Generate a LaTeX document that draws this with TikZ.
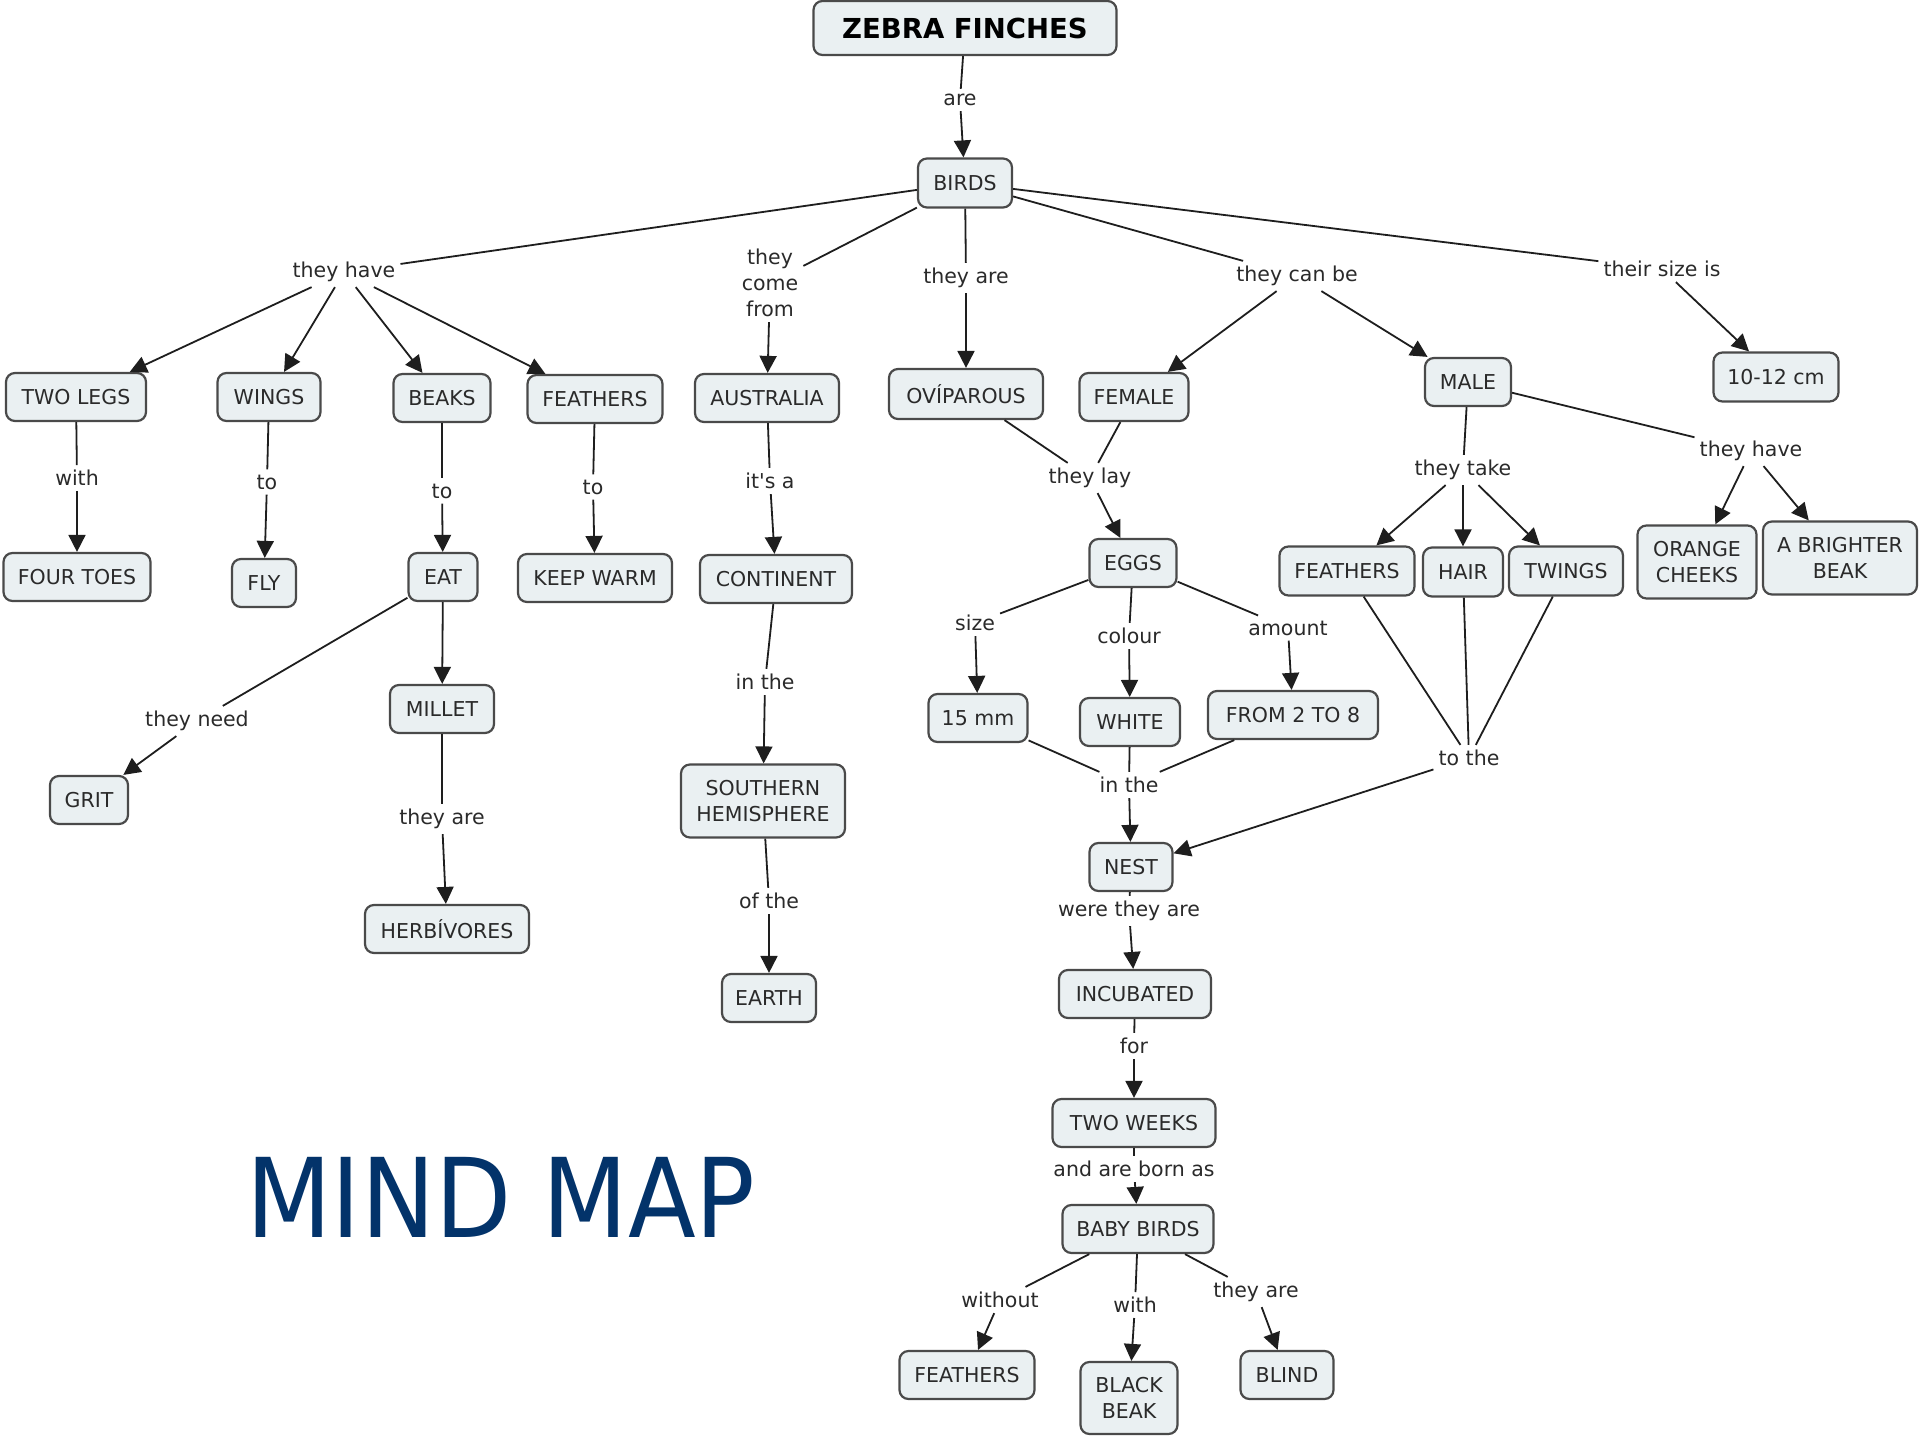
\documentclass[tikz,border=0pt]{standalone}
\usepackage{fontspec}
\setmainfont{DejaVu Sans}
\usepackage{graphicx}
\usetikzlibrary{arrows.meta}
\definecolor{cfill}{HTML}{EAF0F2}
\definecolor{cborder}{HTML}{4A4A4A}
\definecolor{ctext}{HTML}{2A2A2A}
\definecolor{cline}{HTML}{1E1E1E}
\definecolor{navy}{HTML}{03336A}
\newcommand{\nfont}{\fontsize{20.5}{26}\selectfont}
\begin{document}
\begin{tikzpicture}[x=1pt,y=-1pt,
 concept/.style={draw=cborder, fill=cfill, rounded corners=9pt, line width=2.2pt, minimum height=48pt, inner xsep=8pt, inner ysep=4pt, font=\nfont, text=ctext, align=center},
 lbl/.style={font=\nfont, text=ctext, inner sep=5pt, align=center},
 conn/.style={draw=cline, line width=1.8pt},
 arr/.style={conn, -{Triangle[length=17pt,width=17pt]}}]
\fill[white] (0,0) rectangle (1920,1440);
\useasboundingbox (0,0) rectangle (1920,1440);

% concepts
\node[concept, font=\fontsize{27.5}{32}\selectfont\bfseries, text=black, minimum width=303pt, minimum height=54pt] (zf) at (965,28) {ZEBRA FINCHES};
\node[concept, minimum width=94pt, minimum height=49pt] (birds) at (965,183) {BIRDS};
\node[concept, minimum width=140pt] (twolegs) at (76,397) {TWO LEGS};
\node[concept, minimum width=103pt] (wings) at (269,397) {WINGS};
\node[concept, minimum width=97pt] (beaks) at (442,398) {BEAKS};
\node[concept, minimum width=135pt] (feath) at (595,399) {FEATHERS};
\node[concept, minimum width=144pt] (austr) at (767,398) {AUSTRALIA};
\node[concept, minimum width=154pt, minimum height=50pt] (ovip) at (966,394) {OVÍPAROUS};
\node[concept, minimum width=109pt] (female) at (1134,397) {FEMALE};
\node[concept, minimum width=86pt] (male) at (1468,382) {MALE};
\node[concept, minimum width=125pt, minimum height=49pt] (size) at (1776,377) {10-12 cm};
\node[concept, minimum width=147pt] (fourtoes) at (77,577) {FOUR TOES};
\node[concept, minimum width=64pt] (fly) at (264,583) {FLY};
\node[concept, minimum width=69pt] (eat) at (443,577) {EAT};
\node[concept, minimum width=154pt] (keepwarm) at (595,578) {KEEP WARM};
\node[concept, minimum width=152pt] (contin) at (776,579) {CONTINENT};
\node[concept, minimum width=87pt] (eggs) at (1133,563) {EGGS};
\node[concept, minimum width=135pt, minimum height=49pt] (mfeath) at (1347,571) {FEATHERS};
\node[concept, minimum width=80pt, minimum height=49pt] (hair) at (1463,572) {HAIR};
\node[concept, minimum width=114pt, minimum height=49pt] (twings) at (1566,571) {TWINGS};
\node[concept, minimum width=119pt, minimum height=73pt] (orange) at (1697,562) {ORANGE\\CHEEKS};
\node[concept, minimum width=154pt, minimum height=73pt] (bright) at (1840,558) {A BRIGHTER\\BEAK};
\node[concept, minimum width=104pt] (millet) at (442,709) {MILLET};
\node[concept, minimum width=78pt] (grit) at (89,800) {GRIT};
\node[concept, minimum width=164pt, minimum height=73pt] (south) at (763,801) {SOUTHERN\\HEMISPHERE};
\node[concept, minimum width=99pt] (mm) at (978,718) {15 mm};
\node[concept, minimum width=100pt] (white) at (1130,722) {WHITE};
\node[concept, minimum width=170pt] (from) at (1293,715) {FROM 2 TO 8};
\node[concept, minimum width=83pt] (nest) at (1131,867) {NEST};
\node[concept, minimum width=164pt] (herb) at (447,929) {HERBÍVORES};
\node[concept, minimum width=94pt] (earth) at (769,998) {EARTH};
\node[concept, minimum width=152pt] (incub) at (1135,994) {INCUBATED};
\node[concept, minimum width=163pt] (twoweeks) at (1134,1123) {TWO WEEKS};
\node[concept, minimum width=151pt] (baby) at (1138,1229) {BABY BIRDS};
\node[concept, minimum width=135pt] (bfeath) at (967,1375) {FEATHERS};
\node[concept, minimum width=97pt, minimum height=72pt] (black) at (1129,1398) {BLACK\\BEAK};
\node[concept, minimum width=93pt] (blind) at (1287,1375) {BLIND};

% linking phrases
\node[lbl] (l_are) at (960,100) {are};
\node[lbl] (l_have) at (344,272) {they have};
\node[lbl] (l_come) at (770,283) {they\\come\\from};
\node[lbl] (l_are2) at (966,278) {they are};
\node[lbl] (l_can) at (1297,276) {they can be};
\node[lbl] (l_size) at (1662,269) {their size is};
\node[lbl] (l_with) at (77,478) {with};
\node[lbl] (l_to1) at (267,482) {to};
\node[lbl] (l_to2) at (442,491) {to};
\node[lbl] (l_to3) at (593,487) {to};
\node[lbl] (l_its) at (770,481) {it\textquotesingle s a};
\node[lbl] (l_lay) at (1090,478) {they lay};
\node[lbl] (l_take) at (1463,470) {they take};
\node[lbl] (l_have2) at (1751,451) {they have};
\node[lbl] (l_sz) at (975,623) {size};
\node[lbl] (l_col) at (1129,636) {colour};
\node[lbl] (l_amt) at (1288,628) {amount};
\node[lbl] (l_need) at (197,721) {they need};
\node[lbl] (l_inthe1) at (765,682) {in the};
\node[lbl] (l_inthe2) at (1129,785) {in the};
\node[lbl] (l_tothe) at (1469,758) {to the};
\node[lbl] (l_are3) at (442,819) {they are};
\node[lbl] (l_of) at (769,901) {of the};
\node[lbl] (l_were) at (1129,911) {were they are};
\node[lbl] (l_for) at (1134,1046) {for};
\node[lbl] (l_born) at (1134,1169) {and are born as};
\node[lbl] (l_without) at (1000,1300) {without};
\node[lbl] (l_with2) at (1135,1305) {with};
\node[lbl] (l_are4) at (1256,1292) {they are};

% MIND MAP
\node[font=\fontsize{110}{120}\selectfont, text=navy, inner sep=0pt] (mind) at (501,1197) {\scalebox{0.9}[1]{MIND MAP}};

% connectors
\draw[conn] (zf) -- (l_are); \draw[arr] (l_are) -- (birds);
\draw[conn] (birds) -- (l_have);
\draw[arr] (l_have) -- (twolegs);
\draw[arr] (l_have) -- (wings);
\draw[arr] (l_have) -- (beaks);
\draw[arr] (l_have) -- (feath);
\draw[conn] (birds) -- (l_come); \draw[arr] (l_come) -- (austr);
\draw[conn] (birds) -- (l_are2); \draw[arr] (l_are2) -- (ovip);
\draw[conn] (birds) -- (l_can);
\draw[arr] (l_can) -- (female);
\draw[arr] (l_can) -- (male);
\draw[conn] (birds) -- (l_size); \draw[arr] (l_size) -- (size);
\draw[conn] (twolegs) -- (l_with); \draw[arr] (l_with) -- (fourtoes);
\draw[conn] (wings) -- (l_to1); \draw[arr] (l_to1) -- (fly);
\draw[conn] (beaks) -- (l_to2); \draw[arr] (l_to2) -- (eat);
\draw[conn] (feath) -- (l_to3); \draw[arr] (l_to3) -- (keepwarm);
\draw[conn] (austr) -- (l_its); \draw[arr] (l_its) -- (contin);
\draw[conn] (ovip) -- (l_lay); \draw[conn] (female) -- (l_lay); \draw[arr] (l_lay) -- (eggs);
\draw[conn] (male) -- (l_take);
\draw[arr] (l_take) -- (mfeath);
\draw[arr] (l_take) -- (hair);
\draw[arr] (l_take) -- (twings);
\draw[conn] (male) -- (l_have2);
\draw[arr] (l_have2) -- (orange);
\draw[arr] (l_have2) -- (bright);
\draw[conn] (eat) -- (l_need); \draw[arr] (l_need) -- (grit);
\draw[arr] (eat) -- (millet);
\draw[conn] (millet) -- (l_are3); \draw[arr] (l_are3) -- (herb);
\draw[conn] (contin) -- (l_inthe1); \draw[arr] (l_inthe1) -- (south);
\draw[conn] (south) -- (l_of); \draw[arr] (l_of) -- (earth);
\draw[conn] (eggs) -- (l_sz); \draw[arr] (l_sz) -- (mm);
\draw[conn] (eggs) -- (l_col); \draw[arr] (l_col) -- (white);
\draw[conn] (eggs) -- (l_amt); \draw[arr] (l_amt) -- (from);
\draw[conn] (mm) -- (l_inthe2); \draw[conn] (white) -- (l_inthe2); \draw[conn] (from) -- (l_inthe2);
\draw[arr] (l_inthe2) -- (nest);
\draw[conn] (mfeath) -- (l_tothe); \draw[conn] (hair) -- (l_tothe); \draw[conn] (twings) -- (l_tothe);
\draw[arr] (l_tothe) -- (nest);
\draw[conn] (nest) -- (l_were); \draw[arr] (l_were) -- (incub);
\draw[conn] (incub) -- (l_for); \draw[arr] (l_for) -- (twoweeks);
\draw[conn] (twoweeks) -- (l_born); \draw[arr] (l_born) -- (baby);
\draw[conn] (baby) -- (l_without); \draw[arr] (l_without) -- (bfeath);
\draw[conn] (baby) -- (l_with2); \draw[arr] (l_with2) -- (black);
\draw[conn] (baby) -- (l_are4); \draw[arr] (l_are4) -- (blind);
\end{tikzpicture}
\end{document}
